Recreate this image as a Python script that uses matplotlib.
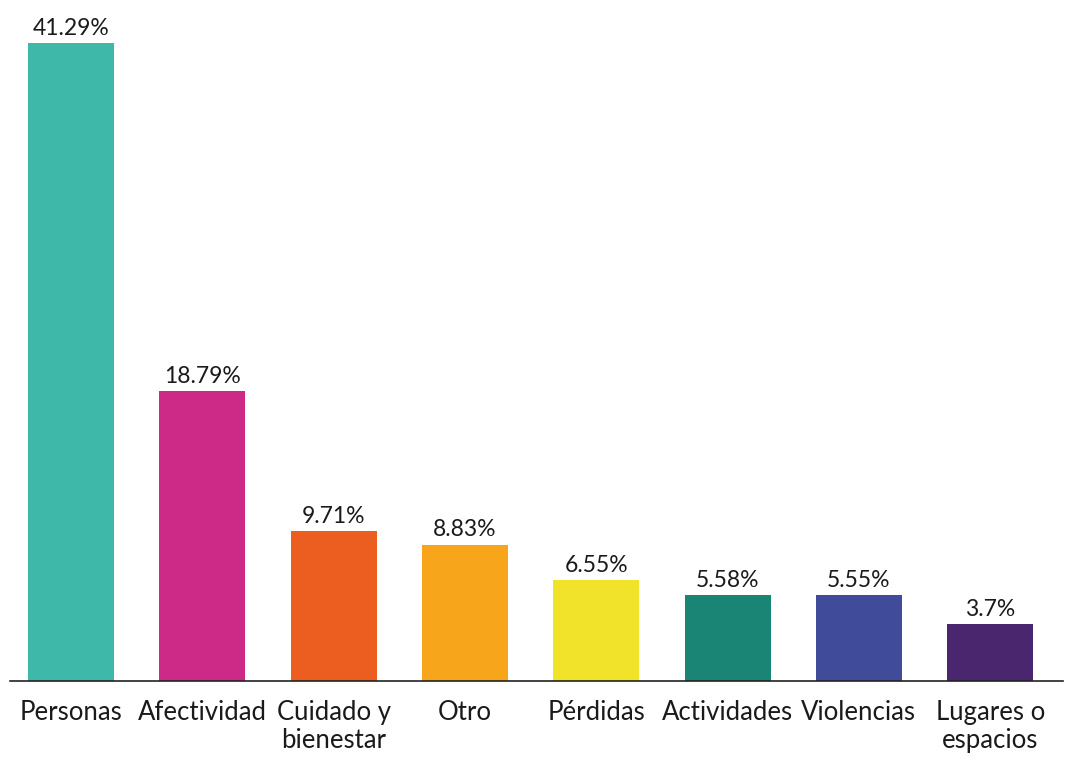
import matplotlib
matplotlib.use("Agg")
import matplotlib.pyplot as plt

categories = ["Personas", "Afectividad", "Cuidado y\nbienestar", "Otro", "Pérdidas",
              "Actividades", "Violencias", "Lugares o\nespacios"]
values = [41.29, 18.79, 9.71, 8.83, 6.55, 5.58, 5.55, 3.7]
value_labels = ["41.29%", "18.79%", "9.71%", "8.83%", "6.55%", "5.58%", "5.55%", "3.7%"]
colors = ["#3DB8A9", "#CD2A87", "#EC5E20", "#F7A51B", "#F0E32A", "#1A8475", "#404C9A", "#49266D"]

plt.rcParams["font.family"] = ["Lato", "DejaVu Sans"]

fig = plt.figure(figsize=(10.67, 7.65), dpi=100)
ax = fig.add_axes([10 / 1067, 84 / 765, 1053 / 1067, 681 / 765])

x = list(range(len(values)))
bars = ax.bar(x, values, width=0.655, color=colors)

for b, lab in zip(bars, value_labels):
    ax.annotate(lab, (b.get_x() + b.get_width() / 2, b.get_height()),
                xytext=(0, 3), textcoords="offset points",
                ha="center", va="bottom", fontsize=16.5, color="#1a1a1a")

ax.set_xlim(-0.465, 7.555)
ax.set_ylim(0, 44.08)
ax.set_xticks(x)
ax.set_xticklabels(categories, fontsize=18.5, color="#1a1a1a", linespacing=1.15)
ax.tick_params(axis="x", length=0, pad=14)
ax.set_yticks([])
for s in ["top", "left", "right"]:
    ax.spines[s].set_visible(False)
ax.spines["bottom"].set_color("#222222")
ax.spines["bottom"].set_linewidth(1.2)

fig.savefig("out.png", dpi=100)
